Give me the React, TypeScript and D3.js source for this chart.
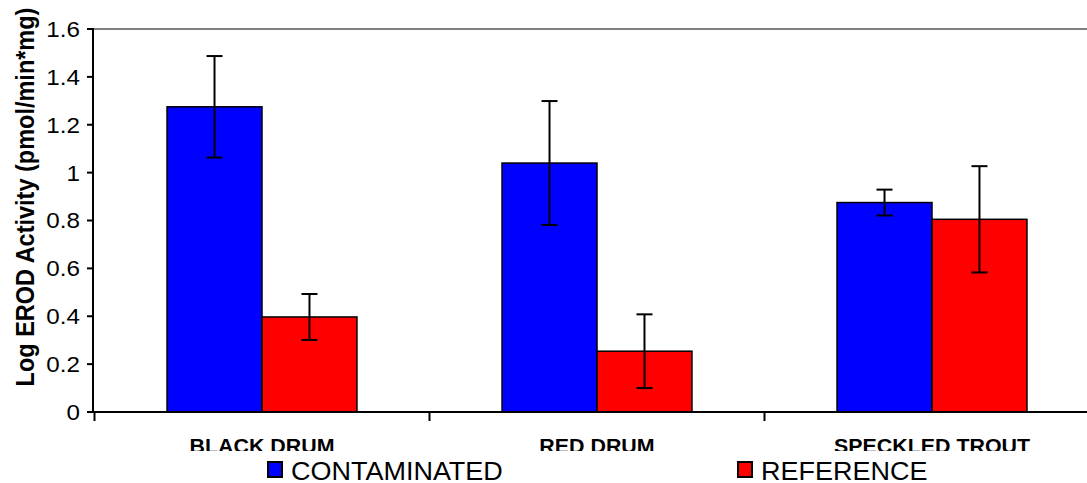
import React from "react";
import * as d3 from "d3";

const categories = ["BLACK DRUM", "RED DRUM", "SPECKLED TROUT"];
const seriesNames = ["CONTAMINATED", "REFERENCE"];
const contaminated = [1.275, 1.04, 0.875];
const contaminatedErr = [0.212, 0.259, 0.054];
const reference = [0.397, 0.254, 0.805];
const referenceErr = [0.096, 0.154, 0.222];
const yTicks = [0, 0.2, 0.4, 0.6, 0.8, 1, 1.2, 1.4, 1.6];
const colors = ["#0000ff", "#ff0000"];

const W = 1087;
const H = 483;

export default function App() {
  const y = d3.scaleLinear().domain([0, 1.6]).range([412, 29]);
  const x0 = d3
    .scaleBand<string>()
    .domain(categories)
    .range([94.5, 1099.5])
    .paddingInner(0.433)
    .paddingOuter(0.2165);
  const x1 = d3
    .scaleBand<string>()
    .domain(seriesNames)
    .range([0, x0.bandwidth()])
    .padding(0);

  const values = [contaminated, reference];
  const errs = [contaminatedErr, referenceErr];
  const step = x0.step();
  const boundaries = categories.map((c) => (x0(c) as number) - (step - x0.bandwidth()) / 2);

  const font = "'Liberation Sans', Arial, sans-serif";

  return (
    <svg
      width={W}
      height={H}
      style={{ position: "fixed", left: 0, top: 0, background: "#fff" }}
      fontFamily={font}
    >
      <defs>
        <clipPath id="catclip">
          <rect x={0} y={0} width={W} height={451} />
        </clipPath>
      </defs>
      <rect x={0} y={0} width={W} height={H} fill="#fff" />
      {/* top border */}
      <line x1={93} x2={W} y1={y(1.6)} y2={y(1.6)} stroke="#808080" strokeWidth={2} />

      {/* bars */}
      {categories.map((c, i) =>
        seriesNames.map((s, j) => {
          const bx = (x0(c) as number) + (x1(s) as number);
          const v = values[j][i];
          return (
            <rect
              key={c + s}
              x={bx}
              y={y(v)}
              width={x1.bandwidth()}
              height={y(0) - y(v)}
              fill={colors[j]}
              stroke="#000"
              strokeWidth={1.5}
            />
          );
        })
      )}

      {/* error bars */}
      {categories.map((c, i) =>
        seriesNames.map((s, j) => {
          const cx = (x0(c) as number) + (x1(s) as number) + x1.bandwidth() / 2;
          const v = values[j][i];
          const e = errs[j][i];
          return (
            <g key={"e" + c + s} stroke="#000" strokeWidth={2}>
              <line x1={cx} x2={cx} y1={y(v + e)} y2={y(v - e)} />
              <line x1={cx - 8} x2={cx + 8} y1={y(v + e)} y2={y(v + e)} />
              <line x1={cx - 8} x2={cx + 8} y1={y(v - e)} y2={y(v - e)} />
            </g>
          );
        })
      )}

      {/* y axis */}
      <line x1={93} x2={93} y1={y(1.6) - 1} y2={y(0) + 1} stroke="#000" strokeWidth={2} />
      {yTicks.map((t) => (
        <g key={"t" + t}>
          <line x1={87} x2={93} y1={y(t)} y2={y(t)} stroke="#000" strokeWidth={2} />
          <text
            transform={`translate(80,${y(t)}) scale(1.1,1)`}
            dy="0.36em"
            textAnchor="end"
            fontSize={22}
            fill="#000"
          >
            {d3.format("")(t)}
          </text>
        </g>
      ))}

      {/* x axis */}
      <line x1={87} x2={W} y1={y(0)} y2={y(0)} stroke="#000" strokeWidth={2} />
      {boundaries.map((b, i) => (
        <line key={"b" + i} x1={b} x2={b} y1={y(0)} y2={y(0) + 9} stroke="#000" strokeWidth={2} />
      ))}
      <g clipPath="url(#catclip)">
        {categories.map((c) => (
          <text
            key={"c" + c}
            transform={`translate(${(x0(c) as number) + x0.bandwidth() / 2},453) scale(1.07,1)`}
            textAnchor="middle"
            fontWeight="bold"
            fontSize={20}
            fill="#000"
          >
            {c}
          </text>
        ))}
      </g>

      {/* y label */}
      <text
        transform={`translate(34,197) rotate(-90) scale(1,1.12)`}
        textAnchor="middle"
        fontWeight="bold"
        fontSize={23.5}
        fill="#000"
      >
        Log EROD Activity (pmol/min*mg)
      </text>

      {/* legend */}
      {seriesNames.map((s, j) => {
        const lx = [268, 738][j];
        return (
          <g key={"l" + s}>
            <rect x={lx} y={462} width={14} height={15} fill={colors[j]} stroke="#000" strokeWidth={2} />
            <text transform={`translate(${lx + 23},480) scale(1.08,1)`} fontSize={25} fill="#000">
              {s}
            </text>
          </g>
        );
      })}
    </svg>
  );
}
